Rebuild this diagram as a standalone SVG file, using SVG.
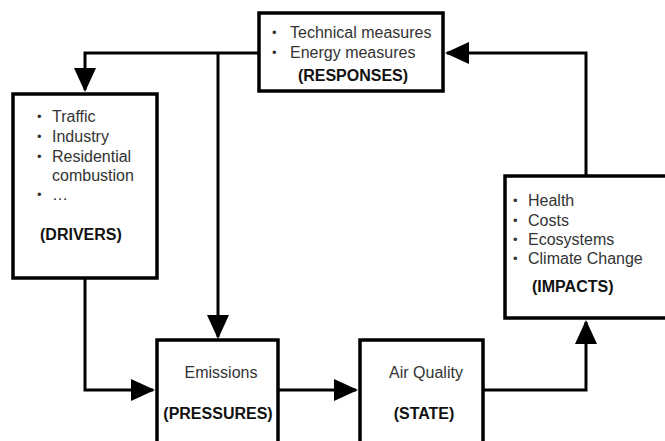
<svg xmlns="http://www.w3.org/2000/svg" width="665" height="441" viewBox="0 0 665 441">
<style>
.box{fill:#fff;stroke:#000;stroke-width:3.5}
.item{font-family:"Liberation Sans",Arial,sans-serif;font-size:16px;fill:#333}
.bul{font-family:"Liberation Sans",Arial,sans-serif;font-size:13px;fill:#333}
.lbl{font-family:"Liberation Sans",Arial,sans-serif;font-size:16px;font-weight:bold;fill:#111}
.c{text-anchor:middle}
.conn{fill:none;stroke:#000;stroke-width:3}
</style>
<defs>
<marker id="ah" markerUnits="userSpaceOnUse" markerWidth="26" markerHeight="24" refX="22" refY="11" orient="auto">
<path d="M0,0 L24,11 L0,22 z" fill="#000"/>
</marker>
</defs>
<rect width="665" height="441" fill="#fff"/>
<g id="connectors">
<path class="conn" d="M259,53 H85 V90" marker-end="url(#ah)"/>
<path class="conn" d="M218,53 V337" marker-end="url(#ah)"/>
<path class="conn" d="M586,176 V53 H447" marker-end="url(#ah)"/>
<path class="conn" d="M85,278 V390 H153" marker-end="url(#ah)"/>
<path class="conn" d="M278,390 H356" marker-end="url(#ah)"/>
<path class="conn" d="M483,390 H586 V322" marker-end="url(#ah)"/>
</g>
<g id="responses">
<rect class="box" x="259" y="13" width="184" height="78"/>
<text class="bul" x="272" y="37">•</text><text class="item" x="290" y="38">Technical measures</text>
<text class="bul" x="272" y="57">•</text><text class="item" x="290" y="58">Energy measures</text>
<text class="lbl c" x="353" y="81">(RESPONSES)</text>
</g>
<g id="drivers">
<rect class="box" x="13" y="94" width="144" height="184"/>
<text class="bul" x="37" y="121">•</text><text class="item" x="52" y="122">Traffic</text>
<text class="bul" x="37" y="141">•</text><text class="item" x="52" y="142">Industry</text>
<text class="bul" x="37" y="161">•</text><text class="item" x="52" y="162">Residential</text>
<text class="item" x="52" y="181">combustion</text>
<text class="bul" x="37" y="199">•</text><text class="item" x="52" y="200">…</text>
<text class="lbl" x="40" y="240">(DRIVERS)</text>
</g>
<g id="impacts">
<rect class="box" x="505" y="176" width="170" height="142"/>
<text class="bul" x="513" y="205">•</text><text class="item" x="528" y="206">Health</text>
<text class="bul" x="513" y="225">•</text><text class="item" x="528" y="226">Costs</text>
<text class="bul" x="513" y="244">•</text><text class="item" x="528" y="245">Ecosystems</text>
<text class="bul" x="513" y="263">•</text><text class="item" x="528" y="264">Climate Change</text>
<text class="lbl" x="532" y="292">(IMPACTS)</text>
</g>
<g id="pressures">
<rect class="box" x="157" y="340" width="121" height="110"/>
<text class="item c" x="221" y="378">Emissions</text>
<text class="lbl c" x="218" y="419">(PRESSURES)</text>
</g>
<g id="state">
<rect class="box" x="360" y="340" width="123" height="110"/>
<text class="item c" x="426" y="378">Air Quality</text>
<text class="lbl c" x="424" y="419">(STATE)</text>
</g>
</svg>
